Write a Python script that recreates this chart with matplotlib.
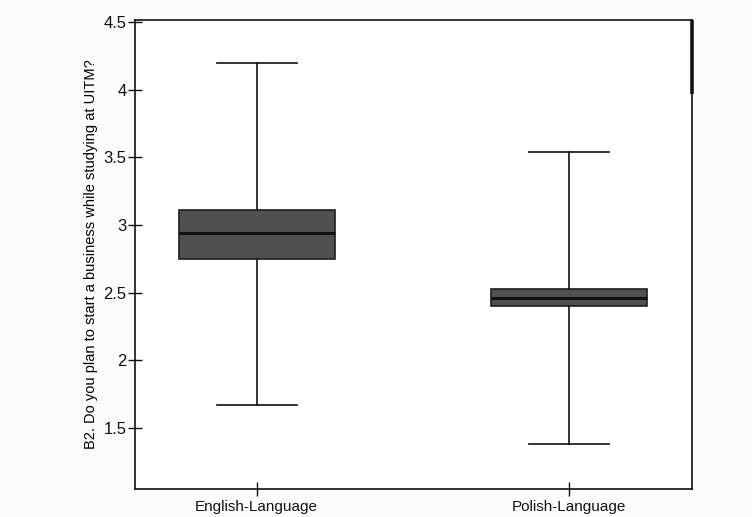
import matplotlib
matplotlib.use("Agg")
from matplotlib import pyplot as plt

plt.rcParams['font.family'] = ['Liberation Sans', 'DejaVu Sans']

# box summaries per group
groups = ['English-Language', 'Polish-Language']
whisker_low = [1.67, 1.38]
q1 = [2.75, 2.40]
medians = [2.94, 2.46]
q3 = [3.11, 2.53]
whisker_high = [4.20, 3.54]
y_ticks = [1.5, 2, 2.5, 3, 3.5, 4, 4.5]
y_title = 'B2. Do you plan to start a business while studying at UITM?'

stats = []
for name, lo, a, m, b, hi in zip(groups, whisker_low, q1, medians, q3, whisker_high):
    stats.append({'label': name, 'whislo': lo, 'q1': a, 'med': m,
                  'q3': b, 'whishi': hi, 'fliers': []})

fig = plt.figure(figsize=(7.52, 5.17), dpi=100, facecolor='#fcfcfc')
ax = fig.add_axes([0.1795, 0.0542, 0.7405, 0.9071])
ax.set_facecolor('white')

ax.bxp(stats, positions=[1, 2], widths=0.5, patch_artist=True,
       showfliers=False,
       boxprops=dict(facecolor='#505050', edgecolor='#1e1e1e', linewidth=1.2),
       medianprops=dict(color='#111111', linewidth=2.2),
       whiskerprops=dict(color='#111111', linewidth=1.2),
       capprops=dict(color='#111111', linewidth=1.2),
       capwidths=0.255)

ax.set_xlim(0.61, 2.394)
ax.set_ylim(1.05, 4.515)
ax.set_yticks(y_ticks)
ax.set_yticklabels(['%g' % v for v in y_ticks])
ax.set_ylabel(y_title, fontsize=10.5, labelpad=4)

ax.tick_params(axis='y', direction='inout', length=10, width=1,
               labelsize=12, pad=1, colors='#111111')
ax.tick_params(axis='x', direction='inout', length=10, width=1,
               labelsize=11, pad=3, colors='#111111')
for side in ['left', 'bottom', 'right', 'top']:
    ax.spines[side].set_color('#111111')
    ax.spines[side].set_linewidth(1.2)

# heavier stroke on upper part of right frame edge
ax.plot([1, 1], [3.97, 4.515], transform=ax.get_yaxis_transform(),
        color='#111111', linewidth=2.6, solid_capstyle='butt', clip_on=False)

fig.savefig('out.png', dpi=100, facecolor=fig.get_facecolor())
